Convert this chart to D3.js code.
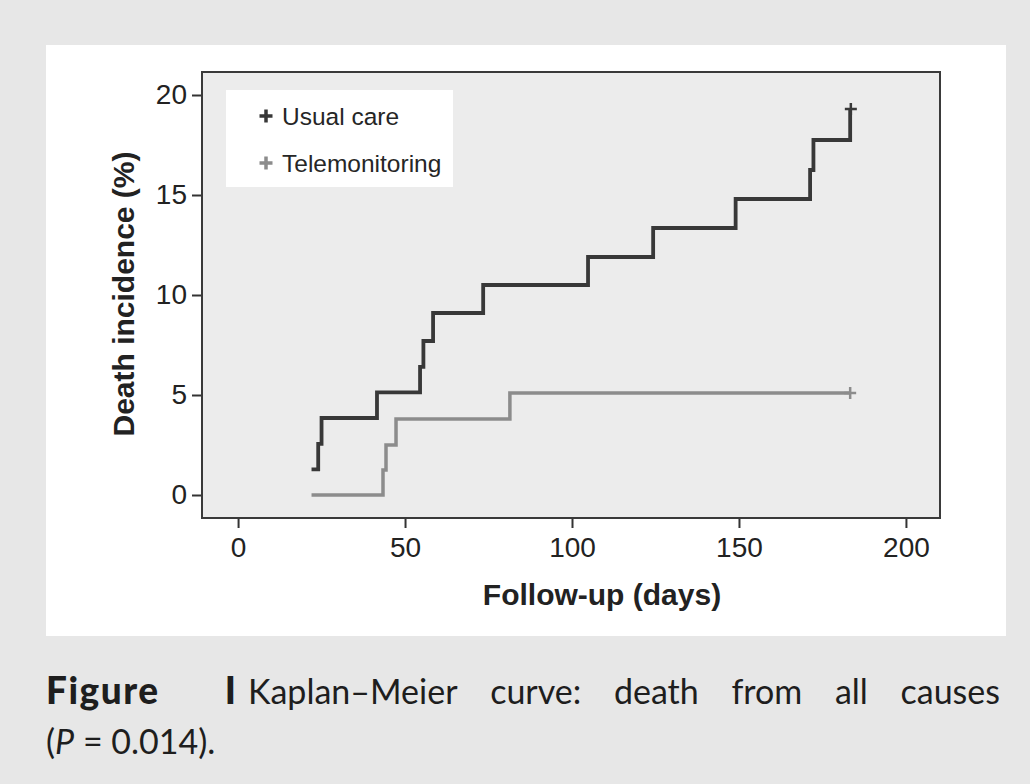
<!DOCTYPE html>
<html>
<head>
<meta charset="utf-8">
<script src="https://cdn.jsdelivr.net/npm/d3@7"></script>
<style>
  html, body { margin: 0; padding: 0; background: #e7e7e7; }
  svg { display: block; }
</style>
</head>
<body>
<svg id="chart" width="1030" height="784"></svg>
<script>
// ---- data ----
const seriesNames = ["Usual care", "Telemonitoring"];
const usualDays = [22, 24, 25, 41.6, 54.5, 55.5, 58.4, 73.4, 104.8, 124.3, 149, 171.3, 172.3, 183.3];
const usualPct  = [1.28, 2.56, 3.85, 5.13, 6.41, 7.7, 9.1, 10.5, 11.9, 13.35, 14.8, 16.25, 17.75, 19.3];
const teleDays  = [22, 43.4, 44.3, 47.3, 81.4, 183.3];
const telePct   = [0, 1.25, 2.5, 3.8, 5.1, 5.1];
const usualCensor = [183.5, 19.3];
const teleCensor  = [183.3, 5.1];
const xTicks = [0, 50, 100, 150, 200];
const yTicks = [0, 5, 10, 15, 20];
const xTitle = "Follow-up (days)";
const yTitle = "Death incidence (%)";
const captionLine1 = ["Figure", "I", "Kaplan–Meier", "curve:", "death", "from", "all", "causes"];
const captionLine2 = [["(", false], ["P", true], [" = 0.014).", false]];

// ---- layout ----
const svg = d3.select("#chart");
const chartFont = "'Liberation Sans', Arial, sans-serif";
const capFont = "Lato, 'Noto Sans', sans-serif";
const col = { usual: "#383838", tele: "#8c8c8c", text: "#222" };

svg.append("rect").attr("x", 0).attr("y", 0).attr("width", 1030).attr("height", 784).attr("fill", "#e7e7e7");
svg.append("rect").attr("x", 46).attr("y", 45).attr("width", 960).attr("height", 591).attr("fill", "#ffffff");

const L = 202, R = 940, T = 72, B = 518;
const x = d3.scaleLinear().domain([-10.8, 210.2]).range([L, R]);
const y = d3.scaleLinear().domain([-1.15, 21.15]).range([B, T]);

svg.append("rect").attr("x", L).attr("y", T).attr("width", R - L).attr("height", B - T)
  .attr("fill", "#ececec");

// axes
const gx = svg.append("g").attr("transform", `translate(0,${B})`)
  .call(d3.axisBottom(x).tickValues(xTicks).tickSize(10).tickPadding(9).tickSizeOuter(0));
const gy = svg.append("g").attr("transform", `translate(${L},0)`)
  .call(d3.axisLeft(y).tickValues(yTicks).tickSize(10).tickPadding(5).tickSizeOuter(0));
[gx, gy].forEach(g => {
  g.select(".domain").remove();
  g.selectAll(".tick line").attr("stroke", "#333").attr("stroke-width", 2);
  g.selectAll(".tick text").attr("fill", col.text).style("font-family", chartFont).style("font-size", "28px");
});

// frame
svg.append("rect").attr("x", L).attr("y", T).attr("width", R - L).attr("height", B - T)
  .attr("fill", "none").attr("stroke", "#3a3a3a").attr("stroke-width", 2);

// titles
svg.append("text").attr("x", (L + R) / 2 + 31).attr("y", 605).attr("text-anchor", "middle")
  .style("font-family", chartFont).style("font-size", "30px").style("font-weight", "bold")
  .attr("fill", col.text).text(xTitle);
svg.append("text").attr("transform", `translate(134,${(148 + 440) / 2}) rotate(-90)`).attr("text-anchor", "middle")
  .style("font-family", chartFont).style("font-size", "30px").style("font-weight", "bold")
  .attr("fill", col.text).text(yTitle);

// curves
const line = d3.line().x(d => x(d[0])).y(d => y(d[1])).curve(d3.curveStepAfter);
const usual = usualDays.map((d, i) => [d, usualPct[i]]);
const tele = teleDays.map((d, i) => [d, telePct[i]]);
svg.append("path").datum(tele).attr("d", line).attr("fill", "none")
  .attr("stroke", col.tele).attr("stroke-width", 3.5).attr("stroke-linejoin", "miter");
svg.append("path").datum(usual).attr("d", line).attr("fill", "none")
  .attr("stroke", col.usual).attr("stroke-width", 3.8).attr("stroke-linejoin", "miter");

function plus(g, cx, cy, s, color, w) {
  g.append("path").attr("d", `M${cx - s},${cy}H${cx + s}M${cx},${cy - s}V${cy + s}`)
    .attr("stroke", color).attr("stroke-width", w).attr("fill", "none");
}
plus(svg, x(usualCensor[0]), y(usualCensor[1]), 6, col.usual, 2.5);
plus(svg, x(teleCensor[0]), y(teleCensor[1]), 6, col.tele, 2.5);

// legend
const lg = svg.append("g");
lg.append("rect").attr("x", 226).attr("y", 90).attr("width", 227).attr("height", 97).attr("fill", "#ffffff");
const legendColors = [col.usual, col.tele];
seriesNames.forEach((name, i) => {
  const cy = 116 + i * 47;
  plus(lg, 266, cy, 6.5, legendColors[i], 3.5);
  lg.append("text").attr("x", 282).attr("y", cy).attr("dy", "0.36em")
    .style("font-family", chartFont).style("font-size", "24.5px").attr("fill", "#262626").text(name);
});

// caption (justified first line)
const capSize = 34;
const capG = svg.append("g").style("font-family", capFont).style("font-size", capSize + "px").attr("fill", "#1e1e1e");
const words = captionLine1.map((w, i) => {
  const t = capG.append("text").attr("y", 704).text(w);
  if (i < 2) t.style("font-weight", "900").style("font-size", "37px");
  if (i === 0) t.style("letter-spacing", "1.5px");
  return t;
});
const widths = words.map(t => t.node().getComputedTextLength());
const left = 46, right = 1000;
const weights = captionLine1.slice(1).map((w, i) => i === 0 ? 2 : (i === 1 ? 0 : 1));
const fixedSmall = 12;
const free = right - left - d3.sum(widths) - fixedSmall;
const unit = free / d3.sum(weights);
let cx = left;
words.forEach((t, i) => {
  t.attr("x", cx);
  cx += widths[i];
  if (i < weights.length) cx += weights[i] === 0 ? fixedSmall : weights[i] * unit;
});
const l2 = capG.append("text").attr("x", 46).attr("y", 754);
captionLine2.forEach(([s, it]) => l2.append("tspan").style("font-style", it ? "italic" : "normal").text(s));
</script>
</body>
</html>
